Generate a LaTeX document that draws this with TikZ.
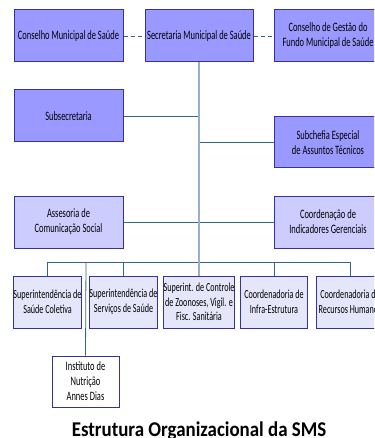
\documentclass[tikz,border=0pt]{standalone}
\usepackage{fontspec}
\setmainfont{Carlito}
\newfontfamily\boxfont[FakeStretch=0.66]{Carlito}
\newfontfamily\titlefont[FakeStretch=0.9]{Carlito}
\definecolor{darkfill}{HTML}{9999FF}
\definecolor{lightfill}{HTML}{CCCCFF}
\definecolor{palefill}{HTML}{E6E6FA}
\definecolor{boxborder}{HTML}{333399}
\definecolor{linkcol}{HTML}{33668F}
\definecolor{trunkcol}{HTML}{99B0CC}
\begin{document}
\begin{tikzpicture}[x=1pt,y=-1pt,
  orgbox/.style={draw=boxborder,line width=1pt,minimum width=109pt,minimum height=52pt,
    inner sep=0pt,align=center,font=\boxfont\fontsize{12.8}{15}\selectfont},
  dark/.style={orgbox,fill=darkfill},
  light/.style={orgbox,fill=lightfill},
  pale/.style={orgbox,fill=palefill,minimum width=67pt,font=\boxfont\fontsize{12.3}{14.5}\selectfont},
  plain/.style={orgbox,fill=white,minimum width=67pt,minimum height=51pt},
  link/.style={draw=linkcol,line width=0.8pt},
  dashlink/.style={link,dashed,dash pattern=on 4pt off 3pt},
  trunk/.style={draw=trunkcol,line width=1.8pt}]
\useasboundingbox (0,0) rectangle (374,438);
\begin{scope}
\clip (0,0) rectangle (374,438);
% top row
\node[dark] (cms) at (68.5,36) {Conselho Municipal de Saúde};
\node[dark,minimum width=108pt] (sms) at (199,36) {Secretaria Municipal de Saúde};
\node[dark,minimum width=108pt] (cgf) at (328,36) {Conselho de Gestão do\\Fundo Municipal de Saúde};
% middle
\node[dark] (sub) at (68.5,116) {Subsecretaria};
\node[dark,minimum width=108pt,minimum height=51pt] (sea) at (328,142.5) {Subchefia Especial\\de Assuntos Técnicos};
\node[light] (acs) at (68.5,222) {Assesoria de\\Comunicação Social};
\node[light,minimum width=108pt] (cig) at (328,222) {Coordenação de\\Indicadores Gerenciais};
% bottom row
\node[pale] (ssc) at (47.5,302) {Superintendência de\\Saúde Coletiva};
\node[pale] (sss) at (123.5,302) {Superintendência de\\Serviços de Saúde};
\node[pale] (scz) at (199,302) {Superint. de Controle\\de Zoonoses, Vigil. e\\Fisc. Sanitária};
\node[pale] (cie) at (274,302) {Coordenadoria de\\Infra-Estrutura};
\node[pale] (crh) at (350,302) {Coordenadoria de\\Recursos Humanos};
\node[plain] (ind) at (85.5,381.5) {Instituto de\\Nutrição\\Annes Dias};
% connectors
\coordinate (bus) at (199,262);
\coordinate (busL) at (47.5,262);
\coordinate (busR) at (350,262);
\coordinate (busI) at (86,262);
\draw[dashlink] (cms.east) -- (sms.west);
\draw[dashlink] (sms.east) -- (cgf.west);
\draw[link] (sub.east) -- (sub.east -| bus);
\draw[link] (sea.west) -- (sea.west -| bus);
\draw[link] (acs.east) -- (cig.west);
\draw[link] (busL) -- (busR);
\draw[link] (busL) -- (ssc.north);
\draw[link] (sss.north |- bus) -- (sss.north);
\draw[link] (cie.north |- bus) -- (cie.north);
\draw[link] (busR) -- (crh.north);
\draw[link] (busI) -- (ind.north);
\draw[trunk] (sms.south) -- (scz.north);
\end{scope}
\node[font=\titlefont\bfseries\fontsize{21}{23}\selectfont,anchor=base,inner sep=0pt] (title) at (199,436) {Estrutura Organizacional da SMS};
\end{tikzpicture}
\end{document}
